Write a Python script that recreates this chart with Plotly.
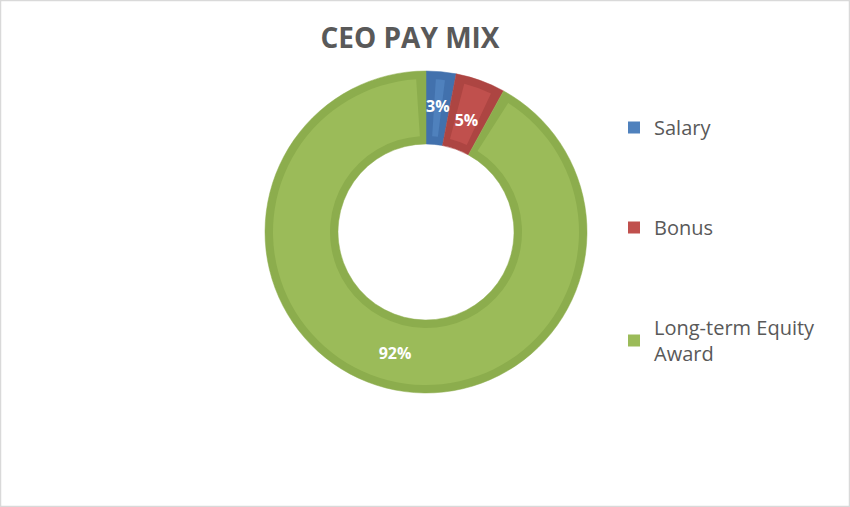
import plotly.graph_objects as go

categories = ["Salary", "Bonus", "Long-term Equity Award"]
legend_labels = ["Salary", "Bonus", "Long-term Equity<br>Award"]
values = [3, 5, 92]
text_labels = ["3%", "5%", "92%"]
fill_colors = ["#4F81BD", "#C0504D", "#9BBB59"]
edge_colors = ["#4271AD", "#AD4542", "#8CAD4D"]

W, H = 850, 507
cx, cy = 426, 232          # pixel centre (from top)
R_out, R_in = 161, 88      # outer / inner radius of the ring
edge = 8                   # inset border width (px)
R_small_text = 138         # ring used to place the labels of the narrow slices

def dom(r):
    return dict(x=[(cx - r) / W, (cx + r) / W],
                y=[(H - cy - r) / H, (H - cy + r) / H])

fig = go.Figure()

# base ring: darker edge colour, exact values
fig.add_trace(go.Pie(
    labels=categories, values=values, textinfo="none",
    marker=dict(colors=edge_colors, line=dict(color=edge_colors, width=0.5)),
    hole=R_in / R_out, sort=False, direction="clockwise", rotation=0,
    showlegend=False, domain=dom(R_out),
))

# inner lighter fill, inset from the edges (small transparent gaps between slices)
total = sum(values)
mid_r = (R_out + R_in) / 2
gap = 2 * edge / mid_r * 180 / 3.14159265 / 360 * total   # gap in value units
fill_vals, fill_cols, fill_labs = [gap / 2], ["rgba(0,0,0,0)"], ["g0"]
for i, (c, v) in enumerate(zip(categories, values)):
    fill_vals += [v - gap, gap if i < len(values) - 1 else gap / 2]
    fill_cols += [fill_colors[i], "rgba(0,0,0,0)"]
    fill_labs += [c + " ", "g%d" % (i + 1)]
fig.add_trace(go.Pie(
    labels=fill_labs, values=fill_vals, textinfo="none",
    marker=dict(colors=fill_cols, line=dict(width=0)),
    hole=(R_in + edge) / (R_out - edge), sort=False, direction="clockwise",
    rotation=0, showlegend=False, hoverinfo="skip", domain=dom(R_out - edge),
))

# text layers: narrow slices and wide slice
small = [v < 10 for v in values]
for r_txt, want_small in [(R_out, False), (R_small_text, True)]:
    fig.add_trace(go.Pie(
        labels=categories, values=values,
        text=[t if s == want_small else "" for t, s in zip(text_labels, small)],
        textinfo="text", textposition="inside", insidetextorientation="horizontal",
        textfont=dict(family="Open Sans", size=16, color="white", weight="bold"),
        marker=dict(colors=["rgba(0,0,0,0)"] * 3, line=dict(width=0)),
        hole=R_in / r_txt, sort=False, direction="clockwise", rotation=0,
        showlegend=False, hoverinfo="skip", domain=dom(r_txt),
    ))

for name, col in zip(legend_labels, fill_colors):
    fig.add_trace(go.Scatter(
        x=[None], y=[None], mode="markers", name=name,
        legendgroup=name,
        marker=dict(symbol="square", size=12, color=col),
    ))

fig.update_layout(
    width=W, height=H,
    margin=dict(l=0, r=0, t=0, b=0),
    paper_bgcolor="white",
    plot_bgcolor="white",
    xaxis=dict(visible=False),
    yaxis=dict(visible=False),
    title=dict(text="<b>CEO PAY MIX</b>", x=410 / W, xanchor="center",
               y=1 - 38 / H, yanchor="middle",
               font=dict(family="Open Sans", size=28, color="#595959")),
    legend=dict(x=614 / W, xanchor="left", y=1 - 108 / H, yanchor="top",
                font=dict(family="Open Sans", size=20, color="#595959"),
                tracegroupgap=71, itemwidth=30,
                bgcolor="rgba(0,0,0,0)"),
    uniformtext=dict(minsize=16, mode="show"),
    shapes=[dict(type="rect", xref="paper", yref="paper",
                 x0=0.5 / W, x1=1 - 0.5 / W, y0=0.5 / H, y1=1 - 0.5 / H,
                 line=dict(color="#D9D9D9", width=1.5))],
)

fig.write_html("out.html")
